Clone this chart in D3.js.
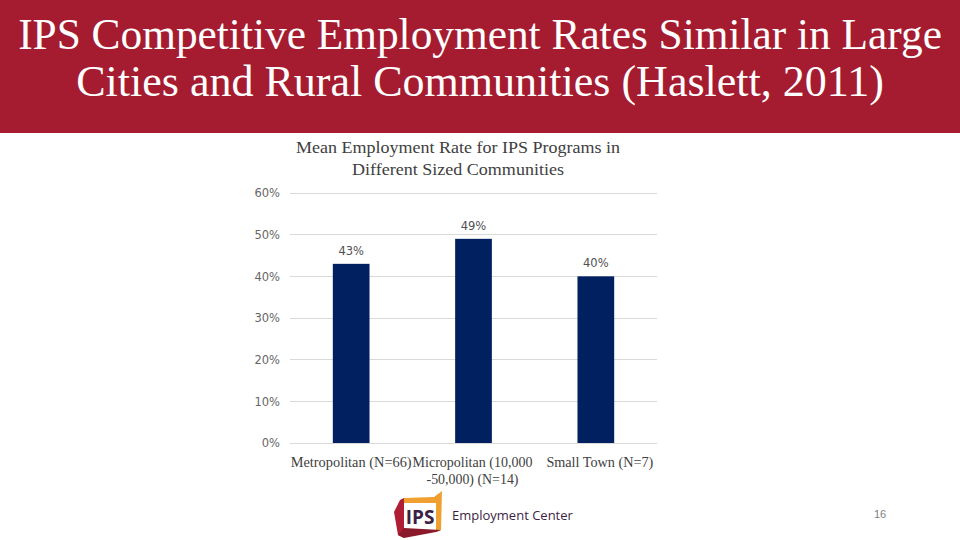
<!DOCTYPE html>
<html><head><meta charset="utf-8">
<script src="https://cdn.jsdelivr.net/npm/d3@7"></script>
<style>body{margin:0;background:#fff}svg{display:block}</style>
</head><body>
<script>
const categories = [["Metropolitan  (N=66)"], ["Micropolitan (10,000", "-50,000) (N=14)"], ["Small Town (N=7)"]];
const values = [0.43, 0.49, 0.40];
const labels = ["43%", "49%", "40%"];
const ticks = [0, 0.1, 0.2, 0.3, 0.4, 0.5, 0.6];

const W = 960, H = 540;
const svg = d3.select("body").append("svg").attr("width", W).attr("height", H);

// fit a text horizontally to a target width using a scale transform
function fitText(sel, cx, cy, target) {
  const nat = sel.node().getComputedTextLength();
  sel.attr("x",0).attr("y",0).attr("text-anchor","middle")
     .attr("transform",`translate(${cx},${cy}) scale(${target/nat},1)`);
}

// Header band
svg.append("rect").attr("x",0).attr("y",0).attr("width",W).attr("height",133).attr("fill","#A51C30");
const tl = [["IPS Competitive Employment Rates Similar in Large", 480, 49, 924],
            ["Cities and Rural Communities (Haslett, 2011)", 480, 96, 808]];
tl.forEach(t => {
  const s = svg.append("text").attr("font-family","Liberation Serif, serif").attr("font-size",45)
    .attr("fill","#fff").text(t[0]);
  fitText(s, t[1], t[2], t[3]);
});

// Chart title
const ct = [["Mean Employment Rate for IPS Programs in", 324], ["Different Sized Communities", 212]];
ct.forEach((t,i) => {
  const s = svg.append("text").attr("font-family","Liberation Serif, serif").attr("font-size",17)
    .attr("fill","#404040").text(t[0]);
  fitText(s, 458, 153+i*22, t[1]);
});

const x = d3.scaleBand().domain(d3.range(values.length)).range([290,657]).paddingInner(0.7).paddingOuter(0.35);
const y = d3.scaleLinear().domain([0,0.6]).range([443,193]);

// gridlines
svg.append("g").selectAll("line").data(ticks).join("line")
  .attr("x1",290).attr("x2",657).attr("y1",d=>y(d)).attr("y2",d=>y(d))
  .attr("stroke","#d9d9d9").attr("stroke-width",1).attr("shape-rendering","crispEdges");

// y axis
const ya = svg.append("g").attr("transform","translate(280,0)")
  .call(d3.axisLeft(y).tickValues(ticks).tickFormat(d3.format(".0%")).tickSize(0).tickPadding(0));
ya.select(".domain").remove();
ya.selectAll("text").attr("font-family","DejaVu Sans, sans-serif").attr("font-size",11.5).attr("fill","#666");

// bars
svg.append("g").selectAll("rect").data(values).join("rect")
  .attr("x",(d,i)=>x(i)).attr("width",x.bandwidth())
  .attr("y",d=>y(d)).attr("height",d=>y(0)-y(d)).attr("fill","#002060");

// value labels
svg.append("g").selectAll("text").data(values).join("text")
  .attr("x",(d,i)=>x(i)+x.bandwidth()/2).attr("y",d=>y(d)-9).attr("text-anchor","middle")
  .attr("font-family","DejaVu Sans, sans-serif").attr("font-size",11.5).attr("fill","#505050")
  .text((d,i)=>labels[i]);

// x axis labels
const lens = [[121],[120,92],[107]];
const xg = svg.append("g");
categories.forEach((lines,i) => {
  lines.forEach((l,j) => {
    const s = xg.append("text").attr("font-family","Liberation Serif, serif").attr("font-size",14)
      .attr("fill","#404040").text(l);
    fitText(s, x(i)+x.bandwidth()/2+(i===0?0:i===1?-1:4), 467+j*17, lens[i][j]);
  });
});

// logo
const lg = svg.append("g");
lg.append("path").attr("d","M400,500 L404,498 L404,538 L398,535 L394,512 Z").attr("fill","#b01e35");
lg.append("path").attr("d","M404,498 L434,497 L442,491 L441,530 L436,532 L436,503 L404,503 Z").attr("fill","#f0a030");
lg.append("path").attr("d","M398,535 L404,538 L436,532 L441,530 L404,528 Z").attr("fill","#8a1a2a");
lg.append("rect").attr("x",404).attr("y",503).attr("width",32).attr("height",25).attr("fill","#fff");
lg.append("text").attr("x",420).attr("y",524).attr("text-anchor","middle").attr("font-family","Open Sans, sans-serif")
  .attr("font-weight",700).attr("font-size",19).attr("fill","#3d1f45").text("IPS");
lg.append("text").attr("x",452).attr("y",520).attr("font-family","Open Sans, sans-serif")
  .attr("font-size",13).attr("fill","#3d1f45").text("Employment Center");

// page number
svg.append("text").attr("x",880).attr("y",518).attr("text-anchor","middle").attr("font-family","Liberation Sans, sans-serif")
  .attr("font-size",11).attr("fill","#808080").text("16");
</script>
</body></html>
